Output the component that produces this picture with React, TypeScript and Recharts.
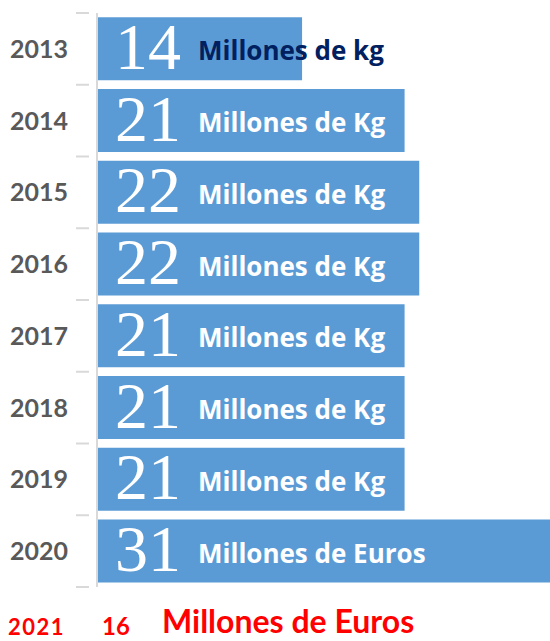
import { BarChart, Bar, XAxis, YAxis, LabelList } from "recharts";

const years = ["2013", "2014", "2015", "2016", "2017", "2018", "2019", "2020"];
const values = [14, 21, 22, 22, 21, 21, 21, 31];
const units = [
  "Millones de kg",
  "Millones de Kg",
  "Millones de Kg",
  "Millones de Kg",
  "Millones de Kg",
  "Millones de Kg",
  "Millones de Kg",
  "Millones de Euros",
];

// extra line below the chart
const noteYear = "2021";
const noteValue = 16;
const noteUnit = "Millones de Euros";

const darkLabelYears = ["2013"];

const data = years.map((year, i) => ({ year, value: values[i], unit: units[i] }));

const SANS = "Lato, 'Open Sans', sans-serif";
const LABEL_SANS = "'Open Sans', Lato, sans-serif";
const BAR = "#5b9bd5";
const AXIS = "#d9d9d9";

function YearTick(props: any) {
  const { x, y, payload, index } = props;
  const half = payload?.offset ?? 35.9;
  return (
    <g>
      <line x1={x - 13} x2={x} y1={y - half} y2={y - half} stroke={AXIS} strokeWidth={2} />
      {index === years.length - 1 && (
        <line x1={x - 13} x2={x} y1={y + half} y2={y + half} stroke={AXIS} strokeWidth={2} />
      )}
      <text x={68} y={y + 9} textAnchor="end" fontFamily={SANS} fontWeight={700} fontSize={25} fill="#595959">
        {payload.value}
      </text>
    </g>
  );
}

function ValueLabel(props: any) {
  const { x, y, height, value } = props;
  return (
    <text x={x + 18} y={y + height / 2 + 20} fontFamily="'Liberation Serif', serif" fontSize={66} fill="#ffffff">
      {value}
    </text>
  );
}

function UnitLabel(props: any) {
  const { x, y, height, value, index } = props;
  const dark = darkLabelYears.includes(years[index]);
  return (
    <text
      x={x + 101}
      y={y + height / 2 + 11.5}
      fontFamily={LABEL_SANS}
      fontWeight={700}
      fontSize={26}
      fill={dark ? "#002060" : "#ffffff"}
    >
      {value}
    </text>
  );
}

export default function App() {
  return (
    <div style={{ position: "relative", width: 550, height: 641, overflow: "hidden", background: "#fff" }}>
      <style>{"html,body{margin:0;padding:0;overflow:hidden;}"}</style>
      <BarChart
        width={595}
        height={641}
        data={data}
        layout="vertical"
        margin={{ top: 13, right: 0, bottom: 54, left: 0 }}
        barCategoryGap="6%"
      >
        <XAxis type="number" domain={[0, 34]} hide />
        <YAxis
          type="category"
          dataKey="year"
          width={97}
          axisLine={{ stroke: AXIS, strokeWidth: 2 }}
          tickLine={false}
          tick={<YearTick />}
          interval={0}
        />
        <Bar dataKey="value" fill={BAR} isAnimationActive={false}>
          <LabelList dataKey="value" content={<ValueLabel />} />
          <LabelList dataKey="unit" content={<UnitLabel />} />
        </Bar>
      </BarChart>
      <div
        style={{
          position: "absolute",
          left: 0,
          top: 600,
          width: 550,
          height: 41,
          color: "#ff0000",
          fontFamily: SANS,
          whiteSpace: "nowrap",
        }}
      >
        <span
          style={{ position: "absolute", left: 8, top: 16, fontSize: 22, fontWeight: 700, lineHeight: "22px", letterSpacing: 1.5 }}
        >
          {noteYear}
        </span>
        <span style={{ position: "absolute", left: 102, top: 14, fontSize: 24, fontWeight: 700, lineHeight: "24px" }}>
          {noteValue}
        </span>
        <span style={{ position: "absolute", left: 162, top: 2, fontSize: 32, fontWeight: 700, lineHeight: "38px" }}>
          {noteUnit}
        </span>
      </div>
    </div>
  );
}
